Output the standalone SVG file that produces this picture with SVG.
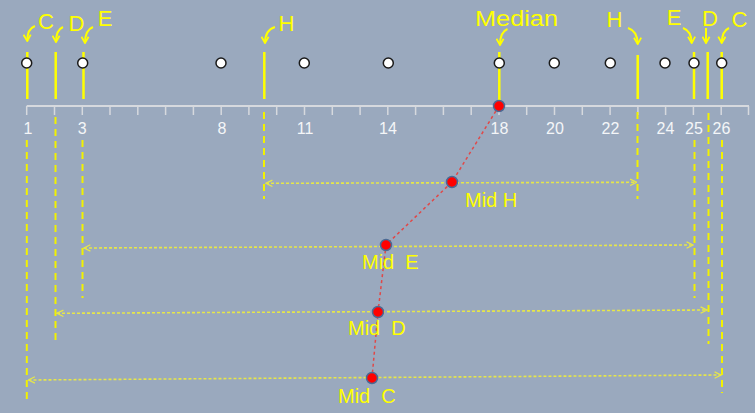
<svg xmlns="http://www.w3.org/2000/svg" width="755" height="413" viewBox="0 0 755 413">
<defs>
<style>
.lbl{font-family:"Liberation Sans",Arial,sans-serif;fill:#ffff00;}
.top{font-size:22px;text-anchor:middle;}
.mid{font-size:20px;white-space:pre;}
.num{font-family:"Liberation Sans",Arial,sans-serif;font-size:16px;fill:#f4f6f8;text-anchor:middle;}
.solid{stroke:#ffff00;stroke-width:2.5;fill:none;}
.vdash{stroke:#f2f200;stroke-width:2;stroke-dasharray:7 5;fill:none;}
.hdot{stroke:#e6e64a;stroke-width:1.6;stroke-dasharray:3 2;fill:none;marker-start:url(#chev);marker-end:url(#chev);}
.curl{stroke:#ffff00;stroke-width:2;fill:none;marker-end:url(#hook);}
.pt{fill:#ffffff;stroke:#1a1a1a;stroke-width:1.5;}
.red{fill:#ff0000;stroke:#4a6a95;stroke-width:1.5;}
.tick{stroke:#d6d9de;stroke-width:1.5;}
</style>
<marker id="chev" viewBox="0 0 10 10" refX="9" refY="5" markerWidth="8" markerHeight="8" markerUnits="userSpaceOnUse" orient="auto-start-reverse">
<path d="M1,1 L9,5 L1,9" fill="none" stroke="#e6e64a" stroke-width="1.6"/>
</marker>
<marker id="hook" viewBox="0 0 10 10" refX="9" refY="5" markerWidth="9" markerHeight="9" markerUnits="userSpaceOnUse" orient="auto">
<path d="M2,1 L9,5 L2,9" fill="none" stroke="#ffff00" stroke-width="2"/>
</marker>
</defs>
<rect width="755" height="413" fill="#9aa9be"/>

<g id="axis">
<line x1="26.7" y1="106" x2="749" y2="106" stroke="#d6d9de" stroke-width="2"/>
<g class="tick">
<line x1="26.7" y1="106" x2="26.7" y2="115"/>
<line x1="54.5" y1="106" x2="54.5" y2="115"/>
<line x1="82.3" y1="106" x2="82.3" y2="115"/>
<line x1="110" y1="106" x2="110" y2="115"/>
<line x1="137.8" y1="106" x2="137.8" y2="115"/>
<line x1="165.6" y1="106" x2="165.6" y2="115"/>
<line x1="193.4" y1="106" x2="193.4" y2="115"/>
<line x1="221.2" y1="106" x2="221.2" y2="115"/>
<line x1="248.9" y1="106" x2="248.9" y2="115"/>
<line x1="276.7" y1="106" x2="276.7" y2="115"/>
<line x1="304.5" y1="106" x2="304.5" y2="115"/>
<line x1="332.3" y1="106" x2="332.3" y2="115"/>
<line x1="360.1" y1="106" x2="360.1" y2="115"/>
<line x1="387.8" y1="106" x2="387.8" y2="115"/>
<line x1="415.6" y1="106" x2="415.6" y2="115"/>
<line x1="443.4" y1="106" x2="443.4" y2="115"/>
<line x1="471.2" y1="106" x2="471.2" y2="115"/>
<line x1="499" y1="106" x2="499" y2="115"/>
<line x1="526.7" y1="106" x2="526.7" y2="115"/>
<line x1="554.5" y1="106" x2="554.5" y2="115"/>
<line x1="582.3" y1="106" x2="582.3" y2="115"/>
<line x1="610.1" y1="106" x2="610.1" y2="115"/>
<line x1="637.9" y1="106" x2="637.9" y2="115"/>
<line x1="665.6" y1="106" x2="665.6" y2="115"/>
<line x1="693.4" y1="106" x2="693.4" y2="115"/>
<line x1="721.2" y1="106" x2="721.2" y2="115"/>
<line x1="748.5" y1="106" x2="748.5" y2="115"/>
</g>
<g class="num">
<text x="28" y="134">1</text>
<text x="82.3" y="134">3</text>
<text x="222" y="134">8</text>
<text x="305" y="134">11</text>
<text x="388" y="134">14</text>
<text x="499.5" y="134">18</text>
<text x="555" y="134">20</text>
<text x="610.5" y="134">22</text>
<text x="665.5" y="134">24</text>
<text x="694" y="134">25</text>
<text x="721.5" y="134">26</text>
</g>
</g>

<g id="connectors">
<line class="solid" x1="27.3" y1="52" x2="27.3" y2="99"/>
<line class="solid" x1="55.7" y1="52" x2="55.7" y2="99"/>
<line class="solid" x1="83.5" y1="52" x2="83.5" y2="99"/>
<line class="solid" x1="264.3" y1="52" x2="264.3" y2="99"/>
<line class="solid" x1="499.3" y1="52" x2="499.3" y2="106"/>
<line class="solid" x1="637.7" y1="55" x2="637.7" y2="99"/>
<line class="solid" x1="694" y1="52" x2="694" y2="99"/>
<line class="solid" x1="707.7" y1="52" x2="707.7" y2="99"/>
<line class="solid" x1="721.7" y1="52" x2="721.7" y2="99"/>
<line class="vdash" x1="26.8" y1="140" x2="26.8" y2="401"/>
<line class="vdash" x1="55.5" y1="117" x2="55.5" y2="344"/>
<line class="vdash" x1="82.5" y1="140" x2="82.5" y2="298"/>
<line class="vdash" x1="264" y1="112" x2="264" y2="199"/>
<line class="vdash" x1="637.5" y1="112" x2="637.5" y2="199"/>
<line class="vdash" x1="694.5" y1="140" x2="694.5" y2="298"/>
<line class="vdash" x1="708.5" y1="113" x2="708.5" y2="344"/>
<line class="vdash" x1="722" y1="140" x2="722" y2="393"/>
<path class="hdot" d="M266,183.3 L636.5,182.3"/>
<path class="hdot" d="M84,248 L693,245"/>
<path class="hdot" d="M57,313.3 L707,310"/>
<path class="hdot" d="M28.5,380 L721,375"/>
<polyline points="499,106 452,182 386,245 378,312 372,378" fill="none" stroke="#e04848" stroke-width="1.5" stroke-dasharray="3 3"/>
<path class="curl" d="M35,26 Q27,29 27.3,41"/>
<path class="curl" d="M63,27 Q56,30 56,42"/>
<path class="curl" d="M93,27 Q85,30 85,43"/>
<path class="curl" d="M275,27 Q265,30 265,43"/>
<path class="curl" d="M507.5,29 Q500,32 500,45"/>
<path class="curl" d="M628,28 Q637.5,31 637.7,44"/>
<path class="curl" d="M683,28 Q691.5,31 691.7,43"/>
<path class="curl" d="M706,28 L706,43"/>
<path class="curl" d="M729,28 Q722,31 721.7,43"/>
</g>

<g id="points">
<circle class="pt" cx="26.7" cy="63" r="5"/>
<circle class="pt" cx="82.7" cy="63" r="5"/>
<circle class="pt" cx="221" cy="63" r="5"/>
<circle class="pt" cx="304.3" cy="63" r="5"/>
<circle class="pt" cx="388.3" cy="63" r="5"/>
<circle class="pt" cx="499.3" cy="63" r="5"/>
<circle class="pt" cx="554.3" cy="63" r="5"/>
<circle class="pt" cx="610.3" cy="63" r="5"/>
<circle class="pt" cx="665" cy="63" r="5"/>
<circle class="pt" cx="694" cy="63" r="5"/>
<circle class="pt" cx="721.7" cy="63" r="5"/>
</g>

<g id="labels-top" class="lbl top">
<text x="46" y="29">C</text>
<text x="76.5" y="31">D</text>
<text x="105" y="26">E</text>
<text x="286.5" y="31">H</text>
<text x="516.5" y="26" textLength="83" lengthAdjust="spacingAndGlyphs">Median</text>
<text x="614.5" y="27">H</text>
<text x="674" y="25">E</text>
<text x="710" y="26">D</text>
<text x="739.5" y="27">C</text>
</g>

<g id="median-dot"><circle class="red" cx="499" cy="106" r="5.5"/></g>
<g id="mid-h">
<circle class="red" cx="452" cy="182" r="5.5"/>
<text class="lbl mid" x="465" y="207">Mid H</text>
</g>
<g id="mid-e">
<circle class="red" cx="386" cy="245" r="5.5"/>
<text class="lbl mid" x="362" y="269" xml:space="preserve">Mid  E</text>
</g>
<g id="mid-d">
<circle class="red" cx="378" cy="312" r="5.5"/>
<text class="lbl mid" x="348" y="335" xml:space="preserve">Mid  D</text>
</g>
<g id="mid-c">
<circle class="red" cx="372" cy="378" r="5.5"/>
<text class="lbl mid" x="338" y="403" xml:space="preserve">Mid  C</text>
</g>
</svg>
